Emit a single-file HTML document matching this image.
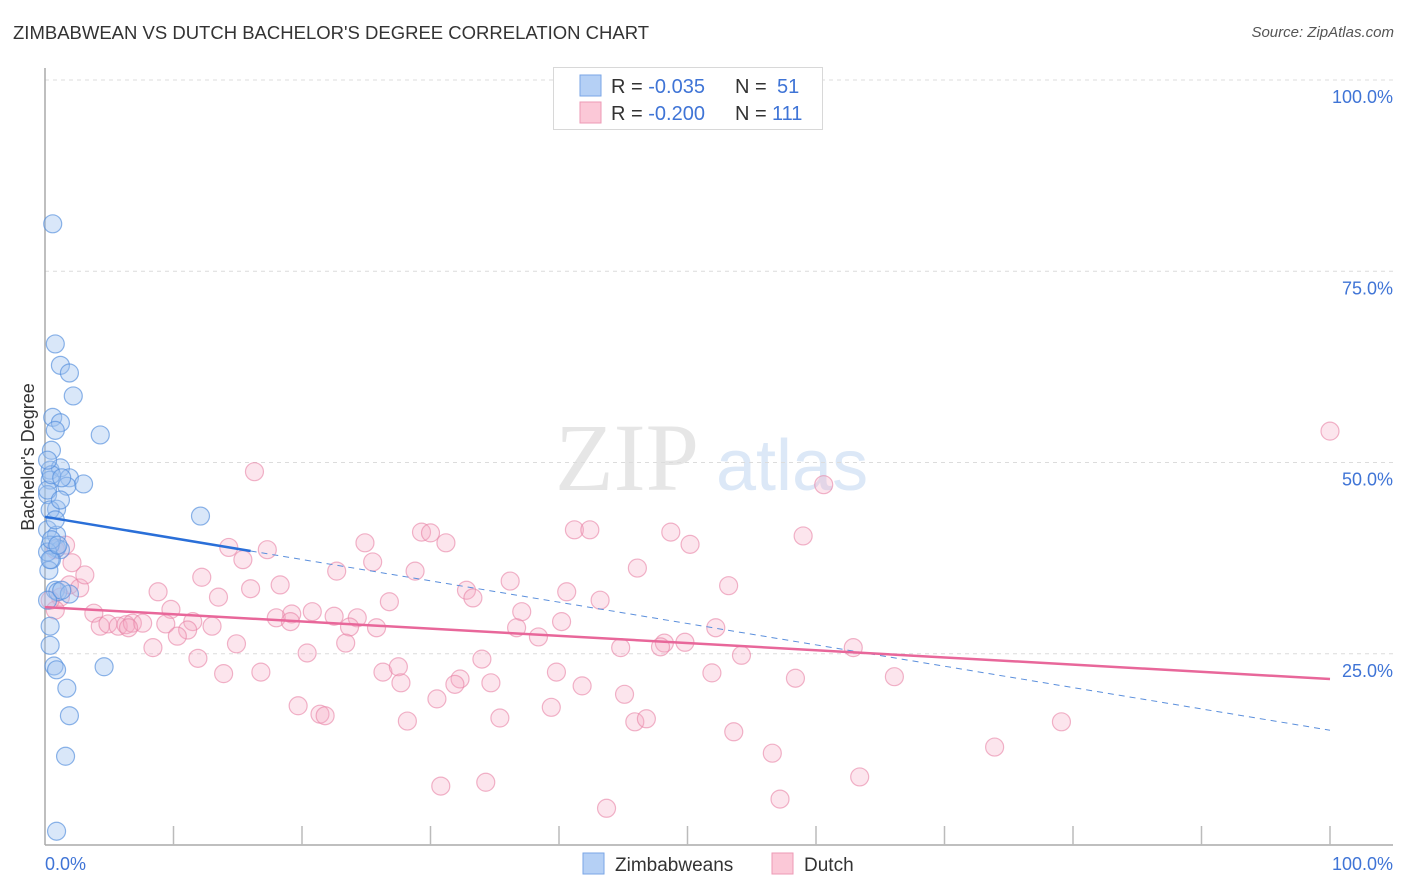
<!DOCTYPE html>
<html><head><meta charset="utf-8">
<style>
body{margin:0;background:#fff;font-family:"Liberation Sans",sans-serif;}
#wrap{position:relative;width:1406px;height:892px;overflow:hidden;}
.t{position:absolute;white-space:nowrap;}
</style></head>
<body>
<div id="wrap">
<div class="t" style="left:13px;top:22px;font-size:18.5px;color:#333;">ZIMBABWEAN VS DUTCH BACHELOR'S DEGREE CORRELATION CHART</div>
<div class="t" style="right:12px;top:24px;font-size:15px;color:#555;font-style:italic;">Source: ZipAtlas.com</div>
<svg id="svg" width="1406" height="892" style="position:absolute;left:0;top:0"></svg>
</div>
<script>
const yTicks=[25,50,75,100];
const yTickLabels=["25.0%","50.0%","75.0%","100.0%"];
const xTickLabels=["0.0%","100.0%"];
const blueX=[0.6,0.8,1.2,1.9,2.2,0.6,1.2,4.3,0.5,0.4,1.2,1.9,3.0,1.7,0.4,0.2,0.9,12.1,0.4,0.2,0.9,0.9,1.2,0.5,0.3,0.8,1.0,1.9,0.4,0.4,0.7,0.9,1.7,1.9,1.6,0.9,4.6,0.2,1.3,0.4,0.8,0.2,0.5,1.3,0.2,0.5,0.4,1.0,1.2,0.2,0.8];
const blueY=[81.2,65.5,62.7,61.7,58.7,55.9,55.2,53.6,51.6,49.0,49.3,48.0,47.2,46.9,47.7,45.8,43.9,43.0,43.8,41.2,40.5,38.8,38.6,37.3,35.9,33.3,33.1,32.8,28.6,26.1,23.4,22.9,20.5,16.9,11.6,1.8,23.3,32.0,33.3,39.2,42.5,46.4,48.4,48.0,38.3,39.9,37.3,39.2,45.1,50.3,54.2];
const pinkX=[100,16.3,60.6,29.3,30.0,41.2,42.4,48.7,59.0,31.2,24.9,50.2,14.3,17.3,15.4,25.5,28.8,46.1,22.7,12.2,36.2,32.8,53.2,8.8,16.0,40.6,33.3,43.2,26.8,13.5,9.8,18.3,37.1,18.0,20.8,22.5,24.3,19.2,19.1,3.8,4.3,4.9,5.7,6.3,6.8,7.6,6.5,13.0,9.4,11.5,23.7,25.8,36.7,40.2,52.2,11.1,10.3,14.9,23.4,38.4,44.8,48.2,49.8,47.9,62.9,8.4,20.4,34.0,54.2,11.9,13.9,16.8,26.3,27.5,27.7,32.3,31.9,34.7,39.8,51.9,58.4,66.1,41.8,45.1,30.5,19.7,21.4,21.8,28.2,35.4,39.4,45.9,46.8,79.1,53.6,56.6,73.9,30.8,34.3,63.4,43.7,57.2,1.2,0.8,0.4,1.9,2.7,1.6,0.8,2.1,3.1];
const pinkY=[54.1,48.8,47.1,40.9,40.8,41.2,41.2,40.9,40.4,39.5,39.5,39.3,38.9,38.6,37.3,37.0,35.8,36.2,35.8,35.0,34.5,33.3,33.9,33.1,33.5,33.1,32.3,32.0,31.8,32.4,30.8,34.0,30.5,29.7,30.5,29.9,29.7,30.2,29.2,30.3,28.6,28.9,28.6,28.8,29.0,29.0,28.4,28.6,28.9,29.2,28.5,28.4,28.4,29.2,28.4,28.1,27.3,26.3,26.4,27.2,25.8,26.4,26.5,25.9,25.8,25.8,25.1,24.3,24.8,24.4,22.4,22.6,22.6,23.3,21.2,21.7,21.0,21.2,22.6,22.5,21.8,22.0,20.8,19.7,19.1,18.2,17.1,16.9,16.2,16.6,18.0,16.1,16.5,16.1,14.8,12.0,12.8,7.7,8.2,8.9,4.8,6.0,32.4,30.7,32.0,34.0,33.6,39.2,38.6,36.9,35.3];
const blueTrend=[42.9,15.0];
const pinkTrend=[31.1,21.7];
const X0=45,X1=1330,Y0=845,Y1=80;
const sx=v=>X0+(X1-X0)*v/100, sy=v=>Y0-(Y0-Y1)*v/100;
const svg=document.getElementById('svg');const NS='http://www.w3.org/2000/svg';
function mk(tag,a,p){const e=document.createElementNS(NS,tag);for(const k in a)e.setAttribute(k,a[k]);(p||svg).appendChild(e);return e;}
let w1=mk('text',{x:555,y:490,'font-size':96,'font-family':'Liberation Serif, serif',fill:'#e6e6e6'});w1.textContent='ZIP';


let w2=mk('text',{x:716,y:490,'font-size':72,'font-family':'Liberation Sans, sans-serif',fill:'#dce8f7'});w2.textContent='atlas';


yTicks.forEach((v,i)=>{
 const g=mk('line',{x1:X0,x2:1393,y1:sy(v),y2:sy(v),stroke:'#dcdcdc','stroke-dasharray':'4,4'});
 
 
 const t=mk('text',{x:1393,y:sy(v)+23,'text-anchor':'end','font-size':18,fill:'#3f74d6'});t.textContent=yTickLabels[i];
 
 
});
let ax=mk('line',{x1:X0,x2:X0,y1:68,y2:Y0,stroke:'#aaa','stroke-width':1.5});


let bx=mk('line',{x1:X0,x2:1393,y1:Y0,y2:Y0,stroke:'#aaa','stroke-width':1.5});


for(let i=1;i<=10;i++){const l=mk('line',{x1:sx(i*10),x2:sx(i*10),y1:826,y2:Y0,stroke:'#bbb','stroke-width':1.5});
 
 }
let xl=mk('text',{x:45,y:870,'font-size':18,fill:'#3f74d6'});xl.textContent=xTickLabels[0];


let xr=mk('text',{x:1393,y:870,'text-anchor':'end','font-size':18,fill:'#3f74d6'});xr.textContent=xTickLabels[1];


let yt=mk('text',{x:34,y:457,'font-size':18,fill:'#333',transform:'rotate(-90 34 457)','text-anchor':'middle'});yt.textContent="Bachelor's Degree";


pinkX.forEach((x,i)=>{const c=mk('circle',{cx:sx(x),cy:sy(pinkY[i]),r:9,fill:'rgba(245,170,195,0.3)',stroke:'rgba(232,130,165,0.6)','stroke-width':1.2});
 
 });
blueX.forEach((x,i)=>{const c=mk('circle',{cx:sx(x),cy:sy(blueY[i]),r:9,fill:'rgba(160,195,240,0.4)',stroke:'rgba(80,140,220,0.65)','stroke-width':1.2});
 
 });
const bAt=x=>blueTrend[0]+(blueTrend[1]-blueTrend[0])*x/100;
let bl=mk('line',{x1:sx(0),y1:sy(bAt(0)),x2:sx(16),y2:sy(bAt(16)),stroke:'#2a6fd8','stroke-width':2.5});


let bd=mk('line',{x1:sx(16),y1:sy(bAt(16)),x2:sx(100),y2:sy(bAt(100)),stroke:'#5b8fdc','stroke-width':1,'stroke-dasharray':'6,5'});


let pl=mk('line',{x1:sx(0),y1:sy(pinkTrend[0]),x2:sx(100),y2:sy(pinkTrend[1]),stroke:'#e8679a','stroke-width':2.5});


let lb=mk('rect',{x:553.5,y:67.5,width:269,height:62,fill:'#fff',stroke:'#d8d8d8'});


const rows=[["#b5d0f5","#7aa6e6","-0.035"," 51"],["#fbc8d7","#ec9ab5","-0.200","111"]];
rows.forEach((r,i)=>{const y=75+i*27;
 const s=mk('rect',{x:580,y:y,width:21,height:21,fill:r[0],stroke:r[1]});
 
 
 const t=mk('text',{x:611,y:y+18,'font-size':20,fill:'#333'});
 t.innerHTML='R = <tspan fill="#3f74d6">'+r[2]+'</tspan><tspan x="735">N = </tspan><tspan fill="#3f74d6" x="'+(i?772:777)+'">'+r[3].trim()+'</tspan>';
 
 
});
[["#b5d0f5","#7aa6e6","Zimbabweans",583,615],["#fbc8d7","#ec9ab5","Dutch",772,804]].forEach(r=>{
 const s=mk('rect',{x:r[3],y:853,width:21,height:21,fill:r[0],stroke:r[1]});
 
 
 const t=mk('text',{x:r[4],y:871,'font-size':19,fill:'#333'});t.textContent=r[2];
 
 
});
</script>
</body></html>
